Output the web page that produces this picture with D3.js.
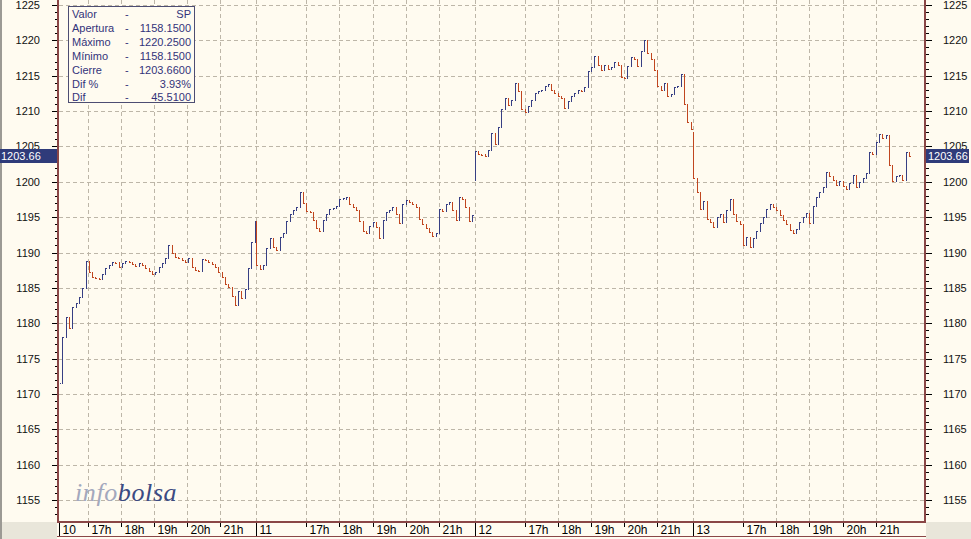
<!DOCTYPE html>
<html><head><meta charset="utf-8">
<script src="https://cdn.jsdelivr.net/npm/d3@7"></script>
<style>html,body{margin:0;padding:0;background:#fffbf0;} svg{display:block}</style>
</head><body>
<svg id="chart" width="971" height="539"></svg>
<script>
// ---------- DATA ----------
const dayLabels = ["10", "11", "12", "13"];
const dayStartMin = [968, 930, 930, 930];      // session start, minutes after midnight
const dayEndMin = [1325, 1325, 1325, 1349];    // session end / chart end
const hourTickHours = [17, 18, 19, 20, 21];
const hourTickLabels = ["17h", "18h", "19h", "20h", "21h"];
const barStepMin = 6;
const dayOpen = [1169.0, 1194.5, 1200.2, 1207.1];

const closes10 = [1171.5,1178.0,1180.9,1179.3,1182.3,1182.8,1183.7,1185.0,1188.8,1187.3,
  1186.6,1186.4,1186.3,1186.9,1187.8,1188.2,1188.7,1188.6,1188.0,1188.5,
  1188.8,1188.6,1188.4,1188.1,1188.5,1188.2,1187.8,1187.4,1187.0,1187.3,
  1188.0,1188.5,1189.2,1191.0,1190.0,1189.4,1189.2,1189.0,1188.6,1189.2,
  1188.0,1187.5,1187.4,1189.1,1189.0,1188.7,1188.4,1188.0,1187.3,1186.6,
  1185.6,1185.1,1183.8,1182.6,1184.6,1183.6,1184.8,1187.8,1191.5,1194.5];
const closes11 = [1188.3,1187.6,1188.2,1190.6,1192.0,1190.8,1190.3,1192.2,1192.7,1194.4,
  1195.5,1196.0,1196.5,1198.6,1197.0,1195.9,1195.7,1194.6,1193.4,1193.0,
  1194.6,1195.4,1196.1,1196.3,1196.6,1197.6,1197.6,1197.9,1196.9,1196.4,
  1196.0,1194.5,1193.1,1192.8,1193.8,1194.3,1193.6,1192.0,1194.6,1195.7,
  1196.0,1196.4,1195.5,1194.2,1196.8,1197.4,1197.1,1196.8,1196.5,1194.8,
  1194.0,1193.5,1192.9,1192.3,1192.7,1196.1,1195.9,1196.8,1197.1,1196.0,
  1194.6,1197.8,1197.5,1196.4,1194.5,1195.3];
const closes12 = [1204.3,1204.0,1203.9,1203.6,1204.5,1206.9,1205.4,1207.8,1210.3,1211.8,
  1210.9,1211.5,1213.9,1212.9,1210.3,1209.9,1210.7,1211.6,1212.5,1212.8,
  1213.0,1213.5,1213.8,1213.0,1212.6,1212.1,1211.8,1210.5,1211.4,1212.1,
  1212.6,1213.0,1212.8,1213.4,1215.6,1216.3,1217.8,1216.5,1215.8,1216.5,
  1215.9,1216.3,1217.0,1216.5,1214.8,1214.7,1216.4,1217.6,1217.3,1216.4,
  1218.5,1220.0,1218.2,1217.4,1215.8,1213.5,1213.0,1213.9,1212.2,1212.4,
  1213.4,1213.6,1215.2,1211.0,1208.4,1207.5];
const closes13 = [1200.5,1198.6,1196.2,1197.3,1194.8,1194.3,1193.6,1195.0,1195.5,1194.3,
  1196.0,1197.6,1195.5,1194.4,1194.1,1191.0,1192.2,1190.8,1192.0,1193.0,
  1194.2,1195.0,1196.2,1196.9,1196.5,1196.0,1195.3,1194.6,1194.0,1193.2,
  1192.7,1193.3,1194.3,1195.0,1195.6,1194.2,1196.6,1197.8,1198.5,1199.2,
  1201.4,1200.8,1200.2,1199.5,1200.1,1199.4,1199.0,1199.8,1201.0,1199.2,
  1200.0,1200.6,1201.3,1204.2,1204.0,1205.6,1206.8,1206.2,1206.6,1202.4,
  1200.1,1200.8,1201.0,1200.3,1204.2,1203.66];
const dayCloses = [closes10, closes11, closes12, closes13];

const yTickValues = [1155,1160,1165,1170,1175,1180,1185,1190,1195,1200,1205,1210,1215,1220,1225];
const lastValue = 1203.66;
const infoLabels = ["Valor", "Apertura", "Máximo", "Mínimo", "Cierre", "Dif %", "Dif"];
const infoValues = ["SP", "1158.1500", "1220.2500", "1158.1500", "1203.6600", "3.93%", "45.5100"];

// ---------- LAYOUT ----------
const W = 971, H = 539;
const plotL = 59, plotR = 925, plotT = 0, plotB = 521;
const cream = "#fffbf0", maroon = "#8a4646", grid = "#bdb6a8";
const upColor = "#373f84", downColor = "#c0461f";

const svg = d3.select("#chart");
svg.append("rect").attr("width", W).attr("height", H).attr("fill", cream);

const dayOffset = [];
let acc = 0;
dayLabels.forEach((d, i) => { dayOffset.push(acc); acc += dayEndMin[i] - dayStartMin[i]; });
const x = d3.scaleLinear().domain([0, acc]).range([plotL, plotR]);
const y = d3.scaleLinear().domain([1155, 1225]).range([500, 5]);
const tx = (d, minute) => x(dayOffset[d] + minute - dayStartMin[d]);

// gridlines
const gH = svg.append("g").attr("stroke", grid).attr("stroke-dasharray", "4,3").attr("shape-rendering", "crispEdges");
yTickValues.forEach(v => {
  gH.append("line").attr("x1", plotL).attr("x2", plotR - 1)
    .attr("y1", Math.round(y(v)) + 0.5).attr("y2", Math.round(y(v)) + 0.5);
});
const vTicks = [];
dayLabels.forEach((lab, d) => {
  vTicks.push({x: tx(d, dayStartMin[d]), label: lab, day: true, d});
  hourTickHours.forEach((h, k) => vTicks.push({x: tx(d, h * 60), label: hourTickLabels[k], day: false, d}));
});
vTicks.filter(t => !(t.day && t.d === 0)).forEach(t => {
  gH.append("line").attr("x1", Math.round(t.x) + 0.5).attr("x2", Math.round(t.x) + 0.5)
    .attr("y1", plotT).attr("y2", plotB);
});

// watermark
const wm = svg.append("text").attr("x", 75).attr("y", 501)
  .attr("font-family", "Liberation Serif, DejaVu Serif, serif").attr("font-style", "italic")
  .attr("font-size", 26).attr("letter-spacing", 0.6);
wm.append("tspan").attr("fill", "#a3a8bd").text("info");
wm.append("tspan").attr("fill", "#3b4a82").text("bolsa");

// price bars
svg.append("clipPath").attr("id", "plotclip").append("rect")
  .attr("x", plotL + 1).attr("y", plotT).attr("width", plotR - plotL - 2).attr("height", plotB - plotT);
const gBars = svg.append("g").attr("clip-path", "url(#plotclip)").attr("shape-rendering", "crispEdges")
  .attr("fill", "none").attr("stroke-width", 1);
dayCloses.forEach((arr, d) => {
  arr.forEach((c, i) => {
    const o = i === 0 ? dayOpen[d] : arr[i - 1];
    const px = Math.round(tx(d, dayStartMin[d] + i * barStepMin)) + 0.5;
    let yo = Math.round(y(o)), yc = Math.round(y(c));
    if (yo === yc) yc = yc + (c >= o ? -1 : 1);
    const col = c >= o ? upColor : downColor;
    gBars.append("path").attr("stroke", col)
      .attr("d", `M${px - 1},${yo + 0.5}H${px}V${yc + 0.5}H${px + 1}`);
  });
});

// frames
svg.append("rect").attr("x", 0).attr("y", 0).attr("width", 2).attr("height", H).attr("fill", "#9c9a94");
svg.append("rect").attr("x", 0).attr("y", plotB + 1).attr("width", plotL - 2).attr("height", H - plotB).attr("fill", "#e9e6da");
svg.append("rect").attr("x", 0).attr("y", plotB + 1).attr("width", 2).attr("height", H - plotB).attr("fill", "#9c9a94");
svg.append("rect").attr("x", plotR + 1).attr("y", plotB + 1).attr("width", W - plotR).attr("height", H - plotB).attr("fill", "#e9e6da");
svg.append("rect").attr("x", plotL - 2).attr("y", 0).attr("width", 2).attr("height", plotB + 2).attr("fill", maroon);
svg.append("rect").attr("x", plotR - 1).attr("y", 0).attr("width", 2).attr("height", plotB + 2).attr("fill", maroon);
svg.append("rect").attr("x", plotL - 2).attr("y", plotB).attr("width", plotR - plotL + 3).attr("height", 2).attr("fill", maroon);
svg.append("rect").attr("x", plotL - 2).attr("y", 536).attr("width", plotR - plotL + 3).attr("height", 1).attr("fill", maroon);

// y axis ticks
const gY = svg.append("g").attr("stroke", "#000").attr("shape-rendering", "crispEdges");
d3.range(1152, 1226).forEach(v => {
  const yy = Math.round(y(v)) + 0.5;
  if (yy > plotB) return;
  const major = yTickValues.includes(v);
  gY.append("line").attr("x1", plotL - (major ? 7 : 4)).attr("x2", plotL - 2).attr("y1", yy).attr("y2", yy);
  gY.append("line").attr("x1", plotR + 1).attr("x2", plotR + (major ? 7 : 4)).attr("y1", yy).attr("y2", yy);
});
const yLab = svg.append("g").attr("font-family", "Liberation Sans, Arial, sans-serif").attr("font-size", 11).attr("fill", "#111");
yTickValues.forEach(v => {
  yLab.append("text").attr("x", 40).attr("y", y(v) + 4).attr("text-anchor", "end").text(v);
  yLab.append("text").attr("x", 943).attr("y", y(v) + 4).text(v);
});

// x axis ticks & labels
const gX = svg.append("g");
vTicks.forEach(t => {
  const xx = Math.round(t.x) + 0.5;
  gX.append("line").attr("x1", xx).attr("x2", xx).attr("y1", plotB + 2).attr("y2", t.day ? 536 : 527)
    .attr("stroke", "#000").attr("shape-rendering", "crispEdges");
  gX.append("text").attr("x", xx + 3).attr("y", 534).attr("font-family", "Liberation Sans, Arial, sans-serif")
    .attr("font-size", 12).attr("fill", "#000").text(t.label);
});

// last value markers (drawn over the axis labels, as in the source chart)
const yl = y(lastValue);
[[0, 57, 1], [plotR + 1, 43, plotR + 3]].forEach(([rx, rw, txx]) => {
  svg.append("rect").attr("x", rx).attr("y", Math.round(yl) - 7).attr("width", rw).attr("height", 14).attr("fill", "#2f3b7a");
  svg.append("text").attr("x", txx).attr("y", yl + 4).attr("font-family", "Liberation Sans, Arial, sans-serif")
    .attr("font-size", 11).attr("fill", "#fff").text(lastValue.toFixed(2));
});

// info box
const gI = svg.append("g").attr("font-family", "Liberation Sans, Arial, sans-serif").attr("font-size", 11).attr("fill", "#33337a");
gI.append("rect").attr("x", 68.5).attr("y", 6.5).attr("width", 126).attr("height", 96)
  .attr("fill", cream).attr("stroke", "#4d4d72");
infoLabels.forEach((lab, i) => {
  const by = 18 + i * 13.9;
  gI.append("text").attr("x", 72).attr("y", by).text(lab);
  gI.append("text").attr("x", 125).attr("y", by).text("-");
  gI.append("text").attr("x", 191).attr("y", by).attr("text-anchor", "end").text(infoValues[i]);
});
</script>
</body></html>
